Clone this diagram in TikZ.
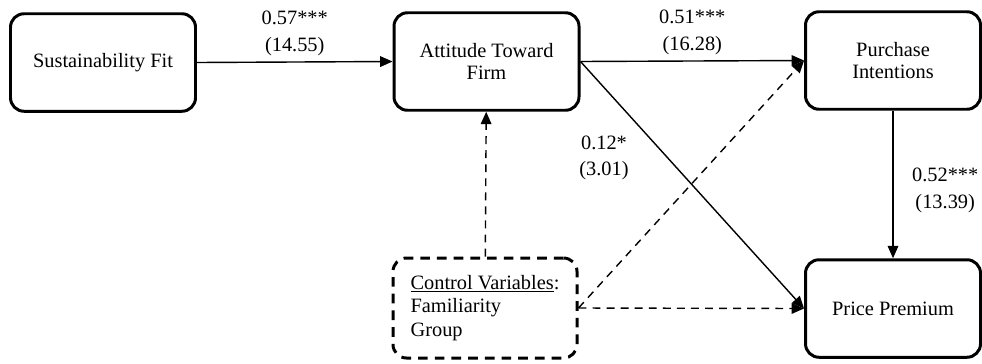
\documentclass[tikz,border=0pt]{standalone}
\usepackage{fontspec}
\setmainfont{Liberation Serif}
\usepackage{tikz}
\usetikzlibrary{positioning,arrows.meta}

\begin{document}
\begin{tikzpicture}[
	box/.style={
		draw, rounded corners=0.27cm, line width=1.7pt,
		minimum width=3.7cm, minimum height=1.95cm,
		align=center, font=\fontsize{11.6}{12.6}\selectfont
	},
	ctrlbox/.style={
		box, dash pattern=on 5.5pt off 4pt, align=left,
		font=\fontsize{11.6}{13.6}\selectfont
	},
	arr/.style={
		draw, line width=0.8pt, -{Triangle[length=7pt,width=6pt]}
	},
	darr/.style={
		arr, dash pattern=on 4.5pt off 3.5pt
	},
	lbl/.style={
		align=center, font=\fontsize{11.6}{15}\selectfont
	}
	]
	\useasboundingbox (0,0) rectangle (19.64,7.26);
	
	% Boxes
	\node[box] (sf) at (2.06,6.01) {Sustainability Fit};
	\node[box] (att) at (9.73,6.03) {Attitude Toward\\Firm};
	\node[box, minimum width=3.5cm] (pi) at (17.86,6.05) {Purchase\\Intentions};
	\node[box, minimum width=3.5cm] (pp) at (17.86,1.09) {Price Premium};
	\node[ctrlbox, minimum width=3.68cm, minimum height=2cm] (cv) at (9.70,1.10)
		{\underline{Control Variables}:\\Familiarity\\Group};
	
	% Paths with coefficients
	\draw[arr] (sf.east) -- node[lbl, above] {0.57***\\(14.55)} (att.west);
	\draw[arr] (att.east) -- node[lbl, above] {0.51***\\(16.28)} (pi.west);
	\draw[arr] (att.east) -- node[lbl, pos=.39, left=0.65cm] {0.12*\\(3.01)} (pp.west);
	\draw[arr] (pi) -- node[lbl, right=0.25cm, yshift=-0.12cm] {0.52***\\(13.39)} (pp);
	
	% Control variables
	\draw[darr] (cv) -- (att);
	\draw[darr] (cv.east) -- (pi.west);
	\draw[darr] (cv.east) -- (pp.west);
\end{tikzpicture}
\end{document}
